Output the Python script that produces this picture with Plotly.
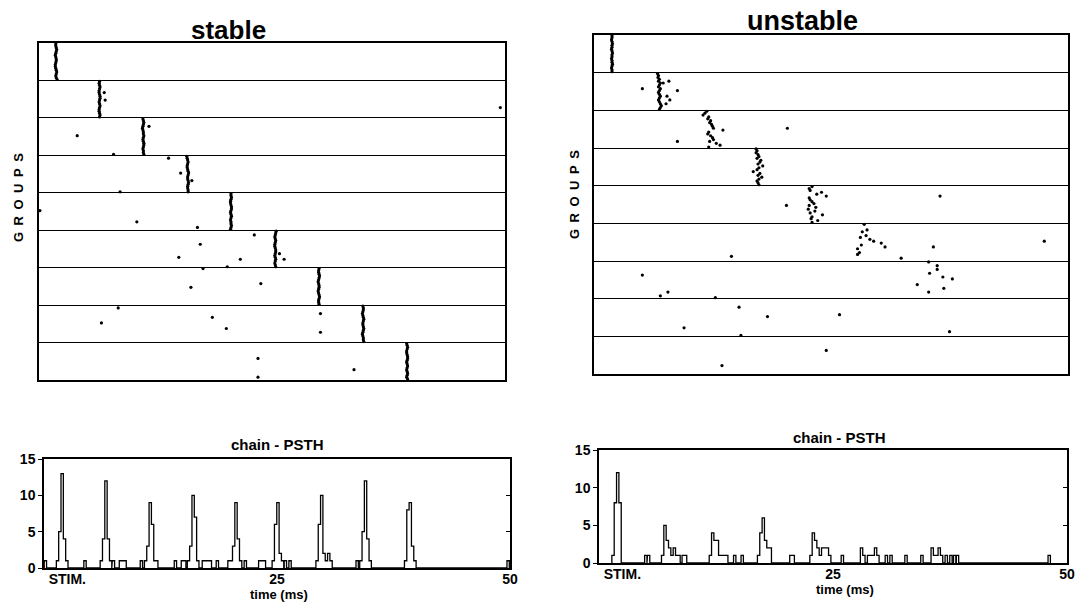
import plotly.graph_objects as go

W, H = 1079, 603
FONT = "Liberation Sans, Arial, Helvetica, sans-serif"
TRIALS = 20

# ---------------- raster data: first spike time (ms) of each trial, per group ----------------
stable_spikes = [
    [1.80, 1.80, 1.85, 1.90, 1.85, 1.80, 1.75, 1.80, 1.85, 1.85, 1.80, 1.75, 1.75, 1.80, 1.85, 1.90, 1.85, 1.80, 1.85, 1.95],
    [6.50, 6.45, 6.50, 6.55, 6.50, 6.45, 6.45, 6.50, 6.55, 6.55, 6.50, 6.45, 6.50, 6.55, 6.50, 6.45, 6.45, 6.50, 6.55, 6.50],
    [11.15, 11.20, 11.25, 11.20, 11.15, 11.10, 11.15, 11.20, 11.20, 11.25, 11.20, 11.15, 11.20, 11.25, 11.25, 11.20, 11.15, 11.20, 11.20, 11.25],
    [15.85, 15.90, 15.95, 16.00, 15.95, 15.90, 15.90, 15.95, 16.00, 16.05, 16.00, 15.95, 15.95, 16.00, 16.05, 16.00, 15.95, 15.95, 16.00, 16.00],
    [20.60, 20.60, 20.65, 20.60, 20.55, 20.55, 20.60, 20.65, 20.65, 20.60, 20.55, 20.60, 20.65, 20.60, 20.55, 20.60, 20.60, 20.65, 20.60, 20.55],
    [25.45, 25.40, 25.35, 25.30, 25.35, 25.40, 25.35, 25.30, 25.30, 25.35, 25.40, 25.40, 25.35, 25.30, 25.35, 25.40, 25.35, 25.30, 25.35, 25.40],
    [30.05, 30.00, 30.00, 30.05, 30.10, 30.05, 30.00, 29.95, 30.00, 30.05, 30.05, 30.00, 29.95, 30.00, 30.05, 30.10, 30.05, 30.00, 30.00, 30.05],
    [34.75, 34.80, 34.80, 34.75, 34.70, 34.75, 34.80, 34.85, 34.80, 34.75, 34.75, 34.80, 34.85, 34.80, 34.75, 34.70, 34.75, 34.80, 34.80, 34.85],
    [39.45, 39.50, 39.55, 39.50, 39.45, 39.45, 39.50, 39.55, 39.55, 39.50, 39.45, 39.50, 39.55, 39.50, 39.45, 39.50, 39.55, 39.50, 39.45, 39.55],
]
# additional spikes: group, trial, time (ms)
stable_extra_group = [2, 2, 2, 3, 3, 3, 4, 4, 4, 4, 5, 5, 5, 6, 6, 6, 6, 6, 6, 6, 7, 7, 7, 8, 8, 8, 8, 8, 8, 9, 9, 9]
stable_extra_trial = [15, 7, 11, 10, 20, 5, 2, 10, 20, 14, 10, 16, 19, 3, 8, 15, 16, 16, 20, 13, 1, 11, 9, 2, 10, 7, 13, 5, 15, 9, 19, 15]
stable_extra_time = [49.5, 7.0, 7.1, 4.1, 8.0, 11.8, 13.9, 15.2, 8.7, 16.4, 0.1, 10.5, 17.0, 23.1, 17.3, 15.0, 21.6, 26.3, 20.2, 25.8,
                     17.6, 16.3, 23.8, 8.5, 6.7, 18.6, 20.1, 30.2, 30.2, 23.5, 23.5, 33.8]

N = None
unstable_spikes = [
    [1.90, 1.90, 1.85, 1.90, 1.95, 1.90, 1.90, 1.85, 1.90, 1.95, 1.90, 1.90, 1.85, 1.90, 1.90, 1.95, 1.90, 1.85, 1.90, 1.90],
    [6.7, 6.8, 6.75, 6.9, 6.8, 7.0, 6.9, 6.8, 7.0, 6.9, 6.8, 6.9, 7.0, 6.9, 6.8, 6.9, 7.0, 7.1, 7.0, 6.9],
    [11.9, 11.7, 11.5, 12.1, 12.0, 12.3, 12.2, 12.4, 12.5, 12.6, 13.6, 12.1, 12.0, 12.3, 12.5, 12.6, 12.2, 12.9, 13.3, 12.1],
    [17.1, 17.2, 17.1, 17.3, 17.4, 17.2, 17.6, 17.5, 17.3, 17.8, 17.4, 17.2, 16.8, 17.5, 17.3, 17.7, 17.4, 17.2, 17.3, 17.4],
    [23.0, 22.7, 22.8, 24.0, 23.5, 24.5, 22.7, 22.8, 23.0, 23.2, 22.7, 23.4, 22.6, 23.3, 22.8, 24.1, 23.0, 22.9, 23.6, 23.0],
    [28.5, N, N, 28.8, 28.3, N, 28.7, 28.1, 29.1, 29.5, 30.3, 28.2, 30.7, 27.8, N, 28.0, 27.8, N, N, N],
    [35.3, N, 36.2, N, 36.2, N, 35.4, N, 36.8, 37.8, N, N, 34.1, N, 36.9, N, 35.3, N, N, N],
    [N] * 20,
    [N] * 20,
]
unstable_extra_group = [2, 2, 2, 2, 2, 2, 2, 3, 3, 5, 5, 6, 6, 6, 6, 7, 7, 7, 7, 8, 8, 8, 8, 8, 8, 9, 9]
unstable_extra_trial = [6, 5, 10, 13, 15, 17, 9, 17, 10, 11, 6, 13, 10, 18, 19, 8, 19, 17, 20, 5, 10, 9, 16, 20, 18, 8, 16]
unstable_extra_time = [7.3, 7.9, 8.8, 7.7, 8.0, 7.6, 5.1, 8.8, 20.4, 20.3, 36.5, 35.8, 47.5, 14.5, 32.4, 5.1, 7.0, 7.8, 12.8,
                       15.3, 18.3, 25.9, 9.5, 15.5, 37.5, 24.5, 13.5]

# ---------------- PSTH data: bin centre (ms) and count ----------------
stable_psth_t = [0.15, 1.45, 1.7, 1.95, 2.2, 2.45, 4.4, 6.15, 6.4, 6.65, 6.9, 7.15, 7.45, 8.2, 8.45, 8.7, 10.45,
                 10.9, 11.15, 11.4, 11.65, 11.9, 12.1, 14.1, 14.85, 15.1, 15.5, 15.75, 16.0, 16.25, 16.5,
                 17.1, 17.35, 17.6, 17.85, 18.6, 19.85, 20.1, 20.35, 20.6, 20.85, 21.1, 21.6, 23.15, 23.4, 23.65,
                 24.6, 24.85, 25.1, 25.35, 25.6, 25.9, 26.4, 29.3, 29.55, 29.8, 30.05, 30.3, 30.55, 30.8,
                 33.6, 34.0, 34.25, 34.5, 34.75, 35.0, 38.8, 39.05, 39.3, 39.55, 39.8, 49.8]
stable_psth_n = [1, 1, 5, 13, 4, 1, 1, 1, 4, 12, 4, 1, 1, 1, 1, 1, 1,
                 1, 3, 9, 6, 1, 1, 1, 1, 1, 1, 3, 10, 7, 1,
                 1, 1, 1, 1, 1, 1, 1, 3, 9, 4, 1, 1, 1, 1, 1,
                 1, 6, 9, 2, 1, 1, 1, 1, 6, 10, 2, 1, 2, 1,
                 1, 1, 5, 12, 4, 1, 1, 8, 9, 3, 1, 1]

unstable_psth_t = [1.5, 1.75, 2.0, 2.25, 5.0, 5.3, 6.8, 7.05, 7.3, 7.55, 7.8, 8.05, 8.3, 8.55, 9.0, 9.25,
                   11.9, 12.15, 12.4, 12.65, 12.9, 13.15, 13.4, 13.65, 14.5, 15.3,
                   17.05, 17.3, 17.55, 17.8, 18.05, 18.3, 20.5, 20.75,
                   22.65, 22.9, 23.15, 23.4, 23.65, 23.9, 24.15, 24.4, 24.65, 26.0,
                   28.05, 28.3, 28.8, 29.05, 29.3, 29.55, 29.8, 30.7, 31.2, 32.8, 34.5,
                   35.6, 35.85, 36.1, 36.35, 36.6, 37.1, 37.6, 38.0, 38.3, 48.1]
unstable_psth_n = [1, 8, 12, 8, 1, 1, 1, 5, 3, 2, 1, 2, 1, 1, 1, 1,
                   1, 4, 3, 3, 1, 1, 1, 1, 1, 1,
                   1, 4, 6, 3, 2, 2, 1, 1,
                   1, 4, 3, 2, 1, 2, 2, 2, 1, 1,
                   2, 1, 1, 1, 1, 2, 1, 1, 1, 1, 1,
                   2, 1, 1, 2, 1, 1, 1, 1, 1, 1]

psth_tickvals = [2.5, 25, 50]
psth_ticktext = ["STIM.", "25", "50"]
psth_ytickvals = [0, 5, 10, 15]
psth_right_tickvals = [5, 10]
BIN_WIDTH = 0.25

fig = go.Figure()


def add_raster(spikes, eg, etr, et, xa, ya):
    xs, ys = [], []
    for g, times in enumerate(spikes):
        for k, t in enumerate(times):
            if t is None:
                continue
            xs.append(t)
            ys.append(g + (k + 0.5) / TRIALS)
    for g, tr, t in zip(eg, etr, et):
        xs.append(t)
        ys.append(g - 1 + (tr - 0.5) / TRIALS)
    fig.add_trace(go.Scatter(x=xs, y=ys, mode="markers",
                             marker=dict(size=3.2, color="black", line=dict(width=0)),
                             xaxis=xa, yaxis=ya, showlegend=False, hoverinfo="skip"))


def add_psth(times, counts, xa, ya):
    # outline (step) histogram built from the bins
    pairs = sorted(zip(times, counts))
    xs, ys = [], []
    prev_right = None
    for t, n in pairs:
        left, right = t - BIN_WIDTH / 2, t + BIN_WIDTH / 2
        if prev_right is None or left > prev_right + 1e-6:
            if prev_right is not None:
                xs.append(prev_right)
                ys.append(0)
            xs.append(left)
            ys.append(0)
        xs += [left, right]
        ys += [n, n]
        prev_right = right
    xs.append(prev_right)
    ys.append(0)
    fig.add_trace(go.Scatter(x=xs, y=ys, mode="lines", line=dict(color="black", width=1.3),
                             xaxis=xa, yaxis=ya, showlegend=False, hoverinfo="skip"))


add_raster(stable_spikes, stable_extra_group, stable_extra_trial, stable_extra_time, "x", "y")
add_raster(unstable_spikes, unstable_extra_group, unstable_extra_trial, unstable_extra_time, "x2", "y2")
add_psth(stable_psth_t, stable_psth_n, "x3", "y3")
add_psth(unstable_psth_t, unstable_psth_n, "x4", "y4")
# invisible traces to carry the right-hand tick axes of the PSTHs
for xa, ya in [("x3", "y5"), ("x4", "y6")]:
    fig.add_trace(go.Scatter(x=[None], y=[None], mode="markers", xaxis=xa, yaxis=ya,
                             showlegend=False, hoverinfo="skip"))


def px_x(a, b):
    return [a / W, b / W]


def px_y(top, bottom):
    return [1 - bottom / H, 1 - top / H]


raster_x = dict(range=[0, 50], showline=True, mirror=True, linecolor="black", linewidth=1.5,
                showgrid=False, zeroline=False, showticklabels=False, ticks="", automargin=False)
raster_y = dict(range=[9, 0], showline=True, mirror=True, linecolor="black", linewidth=1.5,
                tickvals=list(range(1, 9)), showgrid=True, gridcolor="black", gridwidth=1.3,
                zeroline=False, showticklabels=False, ticks="", automargin=False)
psth_x = dict(range=[0, 50], showline=True, mirror=True, linecolor="black", linewidth=1.5,
              showgrid=False, zeroline=False, tickvals=psth_tickvals, ticktext=psth_ticktext,
              ticks="", automargin=False, ticklabelstandoff=-3,
              tickfont=dict(size=14, family=FONT, color="black", weight="bold"))
psth_y = dict(range=[0, 15], showline=True, mirror=True, linecolor="black", linewidth=1.5,
              tickvals=psth_ytickvals, showgrid=False, zeroline=False, ticks="outside", ticklen=4,
              tickcolor="black", automargin=False,
              tickfont=dict(size=14, family=FONT, color="black", weight="bold"))
psth_y_right = dict(range=[0, 15], side="right", showline=False, showgrid=False, zeroline=False,
                    tickvals=psth_right_tickvals, ticks="inside", ticklen=4, tickcolor="black",
                    tickwidth=1.3, showticklabels=False, automargin=False)

fig.update_layout(
    width=W, height=H, margin=dict(l=0, r=0, t=0, b=0, autoexpand=False),
    paper_bgcolor="white", plot_bgcolor="white",
    font=dict(family=FONT, color="black"),
    xaxis=dict(domain=px_x(39, 505), anchor="y", **raster_x),
    yaxis=dict(domain=px_y(43, 380), anchor="x", **raster_y),
    xaxis2=dict(domain=px_x(594, 1068), anchor="y2", **raster_x),
    yaxis2=dict(domain=px_y(35, 374), anchor="x2", **raster_y),
    xaxis3=dict(domain=px_x(44, 510), anchor="y3", **psth_x),
    yaxis3=dict(domain=px_y(459, 568), anchor="x3", **psth_y),
    xaxis4=dict(domain=px_x(599, 1067), anchor="y4", **psth_x),
    yaxis4=dict(domain=px_y(450, 563), anchor="x4", **psth_y),
    yaxis5=dict(overlaying="y3", anchor="x3", **psth_y_right),
    yaxis6=dict(overlaying="y4", anchor="x4", **psth_y_right),
)

bold = dict(family=FONT, color="black", weight="bold")
annots = [
    dict(text="stable", x=228 / W, y=1 - 30 / H, font=dict(size=26, **bold)),
    dict(text="unstable", x=802 / W, y=1 - 21 / H, font=dict(size=27, **bold)),
    dict(text="chain - PSTH", x=277 / W, y=1 - 444 / H, font=dict(size=15, **bold)),
    dict(text="chain - PSTH", x=839 / W, y=1 - 437 / H, font=dict(size=15, **bold)),
    dict(text="time (ms)", x=279 / W, y=1 - 594 / H, font=dict(size=13, **bold)),
    dict(text="time (ms)", x=845 / W, y=1 - 589 / H, font=dict(size=13, **bold)),
    dict(text="G\u2002R\u2002O\u2002U\u2002P\u2002S", x=18 / W, y=1 - 198 / H, textangle=-90,
         font=dict(size=13, **bold)),
    dict(text="G\u2002R\u2002O\u2002U\u2002P\u2002S", x=575 / W, y=1 - 195 / H, textangle=-90,
         font=dict(size=13, **bold)),
]
for a in annots:
    fig.add_annotation(xref="paper", yref="paper", showarrow=False, xanchor="center", yanchor="middle", **a)

fig.write_html("out.html", config={"displayModeBar": False},
               post_script="document.body.style.margin='0px';")
